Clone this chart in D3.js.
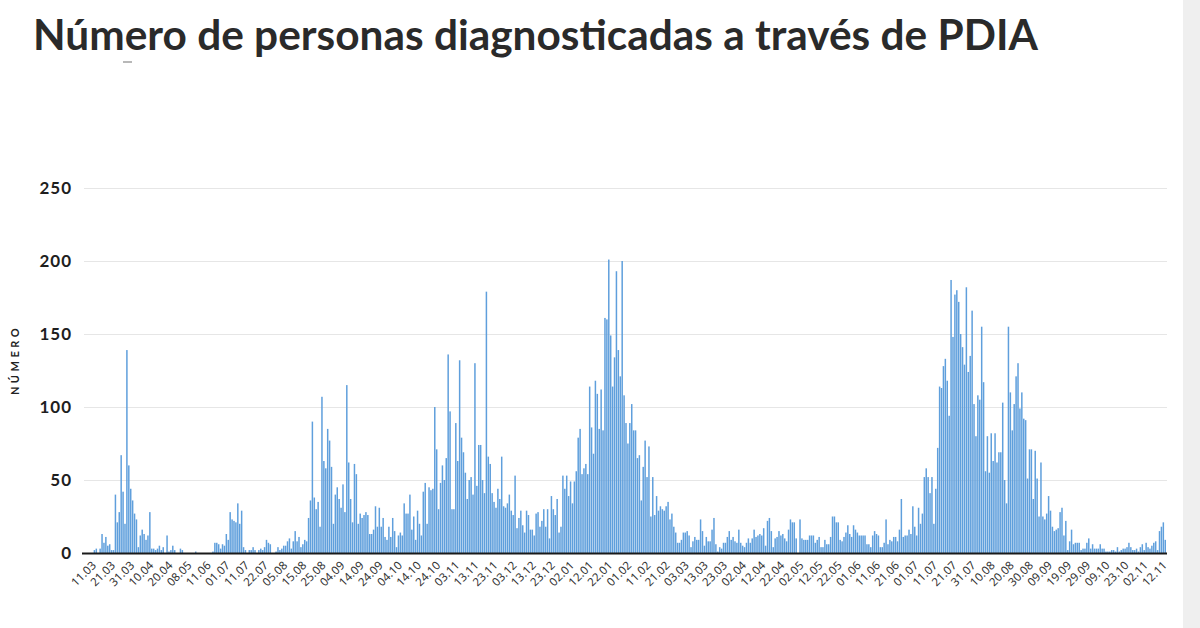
<!DOCTYPE html>
<html>
<head>
<meta charset="utf-8">
<script src="https://cdn.jsdelivr.net/npm/d3@7"></script>
<style>
  html, body { margin: 0; padding: 0; background: #ffffff; }
  svg { display: block; }
</style>
</head>
<body>
<svg id="chart" width="1200" height="628"></svg>
<script>
// ---- Data ----
const title = "Número de personas diagnosticadas a través de PDIA";
const yAxisTitle = "NÚMERO";
const yTicks = [0, 50, 100, 150, 200, 250];
const tickLabels = ["11.03","21.03","31.03","10.04","20.04","08.05","11.06","01.07","11.07","22.07",
  "05.08","15.08","25.08","04.09","14.09","24.09","04.10","14.10","24.10","03.11",
  "13.11","23.11","03.12","13.12","23.12","02.01","12.01","22.01","01.02","11.02",
  "21.02","03.03","13.03","23.03","02.04","12.04","22.04","02.05","12.05","22.05",
  "01.06","11.06","21.06","01.07","11.07","21.07","31.07","10.08","20.08","30.08",
  "09.09","19.09","29.09","09.10","23.10","02.11","12.11"];
const values = [
  0,0,0,0,2,3,0,3,13,7,
  11,5,6,2,2,40,21,28,67,42,
  20,139,60,44,36,27,23,4,12,16,
  13,9,12,28,3,3,2,3,5,2,
  4,0,12,1,2,5,2,0,0,3,
  2,0,0,0,0,0,0,1,0,0,
  0,0,0,0,0,0,1,7,7,6,
  3,6,5,13,9,28,23,22,21,34,
  20,29,4,2,0,2,2,4,2,0,
  2,3,2,4,9,7,6,0,0,1,
  4,2,3,5,5,8,10,3,8,15,
  8,11,4,6,9,8,24,36,90,38,
  30,35,18,107,63,58,85,77,59,20,
  40,45,37,31,47,28,115,62,37,21,
  61,54,20,27,24,26,28,26,13,13,
  16,32,18,31,18,24,11,9,18,11,
  24,15,4,12,14,12,34,27,27,40,
  16,25,9,29,20,12,42,48,20,45,
  43,44,100,71,30,48,60,50,65,136,
  97,30,30,89,63,132,79,69,55,37,
  50,52,40,130,46,74,74,50,41,179,
  66,61,41,35,31,44,37,66,32,31,
  34,40,29,26,53,17,24,29,19,14,
  29,26,16,16,12,27,28,18,22,30,
  18,30,10,39,30,26,37,14,18,53,
  44,53,39,49,34,49,56,79,85,54,
  58,61,54,114,86,68,118,109,85,112,
  84,161,160,201,149,114,134,193,139,121,
  200,108,89,75,89,102,84,84,65,67,
  36,59,77,52,73,25,52,26,39,29,
  32,30,29,32,35,23,27,18,14,7,
  7,9,14,14,15,12,4,8,11,9,
  9,23,15,5,11,8,8,16,24,6,
  1,4,3,7,7,11,15,9,11,8,
  7,16,7,5,4,7,10,7,10,16,
  11,12,13,12,17,5,22,24,15,4,
  10,11,15,12,13,10,8,16,23,21,
  21,10,0,23,10,9,9,9,12,12,
  12,7,9,11,4,4,9,6,6,11,
  25,25,21,21,9,8,11,14,19,13,
  11,19,16,14,12,12,12,12,6,6,
  4,12,15,13,12,4,4,7,23,6,
  9,8,11,11,8,16,37,11,12,12,
  16,13,32,18,12,31,20,27,52,58,
  52,41,52,20,44,72,114,113,128,133,
  118,94,187,148,177,180,172,150,141,129,
  182,124,135,166,102,80,108,105,155,117,
  56,80,55,82,63,82,62,69,69,103,
  50,34,155,110,84,102,121,130,99,110,
  92,91,51,71,71,37,70,51,25,62,
  25,23,27,39,29,18,15,16,17,28,
  31,12,22,2,8,16,6,7,7,7,
  2,3,3,7,10,3,6,3,3,3,
  6,3,3,1,1,1,2,2,1,4,
  1,2,3,3,4,7,4,2,2,3,
  1,4,6,2,7,4,3,5,7,8,
  2,15,18,21,9
];
const categories = values.map((v, i) => i);

// ---- Drawing ----
const svg = d3.select("#chart");
const W = 1200, H = 628;
const plotLeft = 86, plotRight = 1166, plotTop = 188, plotBottom = 553;
const font = "Lato, 'Noto Sans', 'DejaVu Sans', sans-serif";

svg.append("rect").attr("x", 0).attr("y", 0).attr("width", W).attr("height", H).attr("fill", "#ffffff");
svg.append("rect").attr("x", 1183).attr("y", 0).attr("width", 17).attr("height", H).attr("fill", "#efefef");

const x = d3.scaleBand().domain(categories).range([plotLeft, plotRight]).paddingInner(0.22).paddingOuter(0);
const y = d3.scaleLinear().domain([0, 250]).range([plotBottom, plotTop]);

// Title
svg.append("text")
  .attr("x", 33).attr("y", 50)
  .attr("font-family", font)
  .attr("font-weight", 700).attr("font-size", 42)
  .attr("fill", "#2a2a2a")
  .attr("textLength", 1005).attr("lengthAdjust", "spacingAndGlyphs")
  .text(title);
svg.append("rect").attr("x", 123).attr("y", 61).attr("width", 9).attr("height", 2).attr("fill", "#b8b8b8");

// Y axis (gridlines + labels)
const yAxis = d3.axisLeft(y).tickValues(yTicks).tickSize(-(1167 - 84)).tickPadding(12);
const gy = svg.append("g").attr("transform", `translate(84,0)`).call(yAxis);
gy.select(".domain").remove();
gy.selectAll(".tick line").attr("stroke", "#e6e6e6").attr("stroke-width", 1);
gy.selectAll(".tick text")
  .attr("font-family", font)
  .attr("font-weight", 700).attr("font-size", 17).attr("letter-spacing", 1)
  .attr("fill", "#1e1e1e");

// Y axis title
svg.append("text")
  .attr("transform", "translate(19,360) rotate(-90)")
  .attr("text-anchor", "middle")
  .attr("font-family", font)
  .attr("font-weight", 700).attr("font-size", 11).attr("letter-spacing", 3.5)
  .attr("fill", "#222")
  .text(yAxisTitle);

// Bars
svg.append("g").selectAll("rect")
  .data(values)
  .join("rect")
  .attr("x", (d, i) => x(categories[i]))
  .attr("width", x.bandwidth())
  .attr("y", d => y(d))
  .attr("height", d => y(0) - y(d))
  .attr("fill", "#5f9fdc");

// X axis
const xAxis = d3.axisBottom(x)
  .tickValues(categories.filter(i => i % 10 === 0))
  .tickFormat(i => tickLabels[i / 10])
  .tickSize(0).tickPadding(6);
const gx = svg.append("g").attr("transform", `translate(0,${plotBottom})`).call(xAxis);
gx.select(".domain").remove();
gx.selectAll(".tick text")
  .attr("font-family", "'Noto Sans', 'DejaVu Sans', sans-serif")
  .attr("font-size", 11.5).attr("fill", "#333")
  .attr("text-anchor", "end")
  .attr("dy", "0.35em")
  .attr("transform", "translate(3,6) rotate(-45)");
svg.append("line")
  .attr("x1", 82).attr("x2", 1167)
  .attr("y1", plotBottom + 0.5).attr("y2", plotBottom + 0.5)
  .attr("stroke", "#1a1a1a").attr("stroke-width", 2);
</script>
</body>
</html>
